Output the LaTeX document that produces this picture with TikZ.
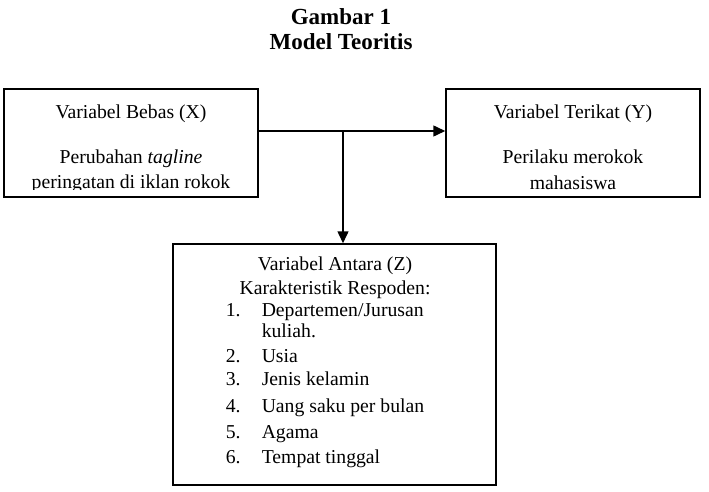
\documentclass[tikz,border=0pt]{standalone}
\usepackage{fontspec}
\setmainfont{Liberation Serif}
\usetikzlibrary{arrows.meta}

\begin{document}
\begin{tikzpicture}[x=1pt,y=-1pt,line width=1.5pt,
	kotak/.style={draw,rectangle,inner sep=0pt},
	teks/.style={anchor=base,inner sep=0pt,font=\fontsize{19.7}{23}\selectfont},
	judul/.style={anchor=base,inner sep=0pt,font=\fontsize{23}{27}\selectfont\bfseries},
	panah/.style={-{Triangle[length=12pt,width=11pt]}}]
	% Ukuran gambar
	\def\lbr{709} \def\tgi{492}
	\useasboundingbox (0,0) rectangle (\lbr,\tgi);
	%
	% Judul
	\node[judul] (jd1) at (341,25) {Gambar 1};
	\node[judul] (jd2) at (341,50) {Model Teoritis};
	%
	% Kotak variabel
	\node[kotak,minimum width=254,minimum height=108] (bx) at (131,143) {};
	\node[kotak,minimum width=254,minimum height=108] (by) at (573,143) {};
	\node[kotak,minimum width=323,minimum height=241] (bz) at (334.5,364.5) {};
	%
	% Teks kotak X dan Y
	\node[teks] (bx1) at (131,118) {Variabel Bebas (X)};
	\node[teks] (bx2) at (131,163) {Perubahan \textit{tagline}};
	\begin{scope}
		\clip (4,89) rectangle (258,189.5);
		\node[teks] (bx3) at (131,188) {peringatan di iklan rokok};
	\end{scope}
	\node[teks] (by1) at (573,118) {Variabel Terikat (Y)};
	\node[teks] (by2) at (573,163) {Perilaku merokok};
	\node[teks] (by3) at (573,189) {mahasiswa};
	%
	% Teks kotak Z
	\node[teks] (bz1) at (335,270) {Variabel Antara (Z)};
	\node[teks] (bz2) at (335,294) {Karakteristik Respoden:};
	\foreach \nm/\yy/\isi in {1/316/{Departemen/Jurusan},2/362/Usia,3/385/Jenis kelamin,
		4/412/Uang saku per bulan,5/438/Agama,6/463/Tempat tinggal}{
		\node[teks,anchor=base west] (no\nm) at (225,\yy) {\nm.};
		\node[teks,anchor=base west] (it\nm) at (261,\yy) {\isi};
	};
	\node[teks,anchor=base west] (it1b) at (261,337) {kuliah.};
	%
	% Panah
	\coordinate (simpul) at (343,131);
	\draw[panah] (simpul -| bx.east) -- (simpul -| by.west);
	\draw[panah] (simpul) -- (bz.north -| simpul);
\end{tikzpicture}
\end{document}
